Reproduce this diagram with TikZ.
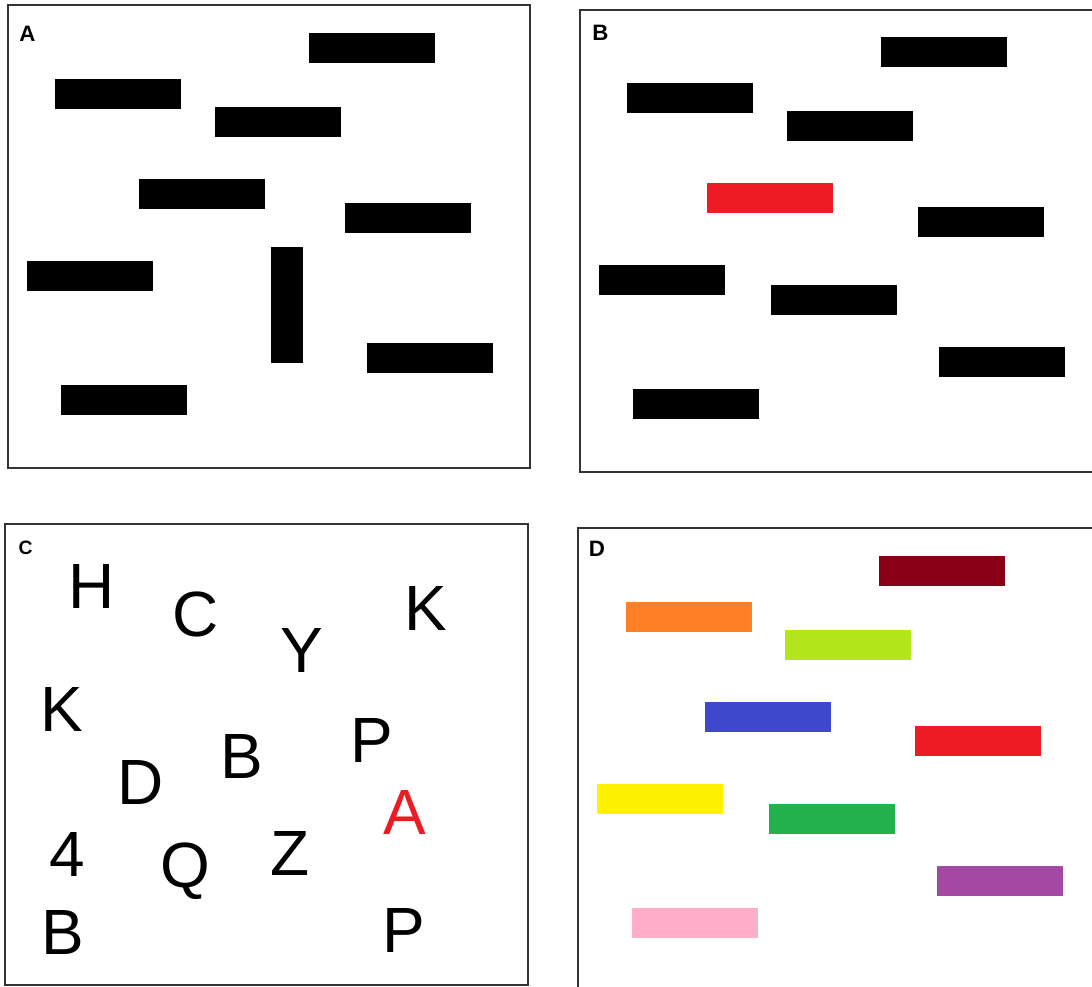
\documentclass[tikz,border=0pt]{standalone}
\usepackage{fontspec}
\setmainfont{Liberation Sans}
\definecolor{pkred}{HTML}{ED1C24}
\definecolor{pkwine}{HTML}{880015}
\definecolor{pkorange}{HTML}{FF7F27}
\definecolor{pklime}{HTML}{B5E61D}
\definecolor{pkblue}{HTML}{3F48CC}
\definecolor{pkyellow}{HTML}{FFF200}
\definecolor{pkgreen}{HTML}{22B14C}
\definecolor{pkpurple}{HTML}{A349A4}
\definecolor{pkpink}{HTML}{FFAEC9}

\begin{document}
\begin{tikzpicture}[x=0.02cm,y=-0.02cm,
  panel/.style={draw=black!80,line width=1.1pt},
  bar/.style={fill=black},
  tag/.style={font=\fontsize{12.7}{14}\selectfont\bfseries,inner sep=0pt},
  glyph/.style={font=\fontsize{36.4}{40}\selectfont,inner sep=0pt}]
  \useasboundingbox (0,0) rectangle (1092,987);
  \clip (0,0) rectangle (1092,987);

  % A: black bars, one upright
  \draw[panel] (7.7,5) rectangle (530.4,468);
  \node[tag] (tagA) at (27.5,34) {A};
  \fill[bar] (309,33) rectangle ++(126,30);
  \fill[bar] (55,79) rectangle ++(126,30);
  \fill[bar] (215,107) rectangle ++(126,30);
  \fill[bar] (139,179) rectangle ++(126,30);
  \fill[bar] (345,203) rectangle ++(126,30);
  \fill[bar] (27,261) rectangle ++(126,30);
  \fill[bar] (271,247) rectangle ++(31.6,116);
  \fill[bar] (367,343) rectangle ++(126,30);
  \fill[bar] (61,385) rectangle ++(126,30);

  % B: one red bar
  \draw[panel] (579.7,10) rectangle (1100,472);
  \node[tag] (tagB) at (600.5,32.5) {B};
  \fill[bar] (881.3,37) rectangle ++(126,30);
  \fill[bar] (627.4,83) rectangle ++(126,30);
  \fill[bar] (787.4,111) rectangle ++(126,30);
  \fill[pkred] (707.4,183) rectangle ++(126,30);
  \fill[bar] (917.5,207) rectangle ++(126,30);
  \fill[bar] (599.2,265) rectangle ++(126,30);
  \fill[bar] (771.4,285) rectangle ++(126,30);
  \fill[bar] (939.4,347) rectangle ++(126,30);
  \fill[bar] (633.3,389) rectangle ++(126,30);

  % C: letters
  \draw[panel] (5.2,524) rectangle (528,985);
  \node[tag,font=\fontsize{11}{12}\selectfont\bfseries] (tagC) at (25.5,548) {C};
  \node[glyph] (lH) at (91.3,586) {H};
  \node[glyph] (lC) at (195.5,614.5) {C};
  \node[glyph] (lY) at (301.4,650.5) {Y};
  \node[glyph] (lK1) at (425.4,608.5) {K};
  \node[glyph] (lK2) at (61.4,709) {K};
  \node[glyph] (lB1) at (242,756) {B};
  \node[glyph] (lP1) at (372,740.5) {P};
  \node[glyph] (lD) at (140.3,782.5) {D};
  \node[glyph,text=pkred] (lA) at (405,812.5) {A};
  \node[glyph] (l4) at (67.5,854.5) {4};
  \node[glyph] (lQ) at (185.7,871) {Q};
  \node[glyph] (lZ) at (290,853) {Z};
  \node[glyph] (lB2) at (62.6,932.5) {B};
  \node[glyph] (lP2) at (404.3,930) {P};

  % D: coloured bars
  \draw[panel] (578,528.3) rectangle (1100,1000);
  \node[tag] (tagD) at (597,549) {D};
  \fill[pkwine] (879.2,555.7) rectangle ++(126,30);
  \fill[pkorange] (625.7,601.7) rectangle ++(126,30);
  \fill[pklime] (785.3,629.7) rectangle ++(126,30);
  \fill[pkblue] (705.3,701.7) rectangle ++(126,30);
  \fill[pkred] (915.4,725.7) rectangle ++(126,30);
  \fill[pkyellow] (597.1,783.7) rectangle ++(126,30);
  \fill[pkgreen] (769.3,803.7) rectangle ++(126,30);
  \fill[pkpurple] (937.3,865.7) rectangle ++(126,30);
  \fill[pkpink] (631.6,907.7) rectangle ++(126,30);
\end{tikzpicture}
\end{document}
